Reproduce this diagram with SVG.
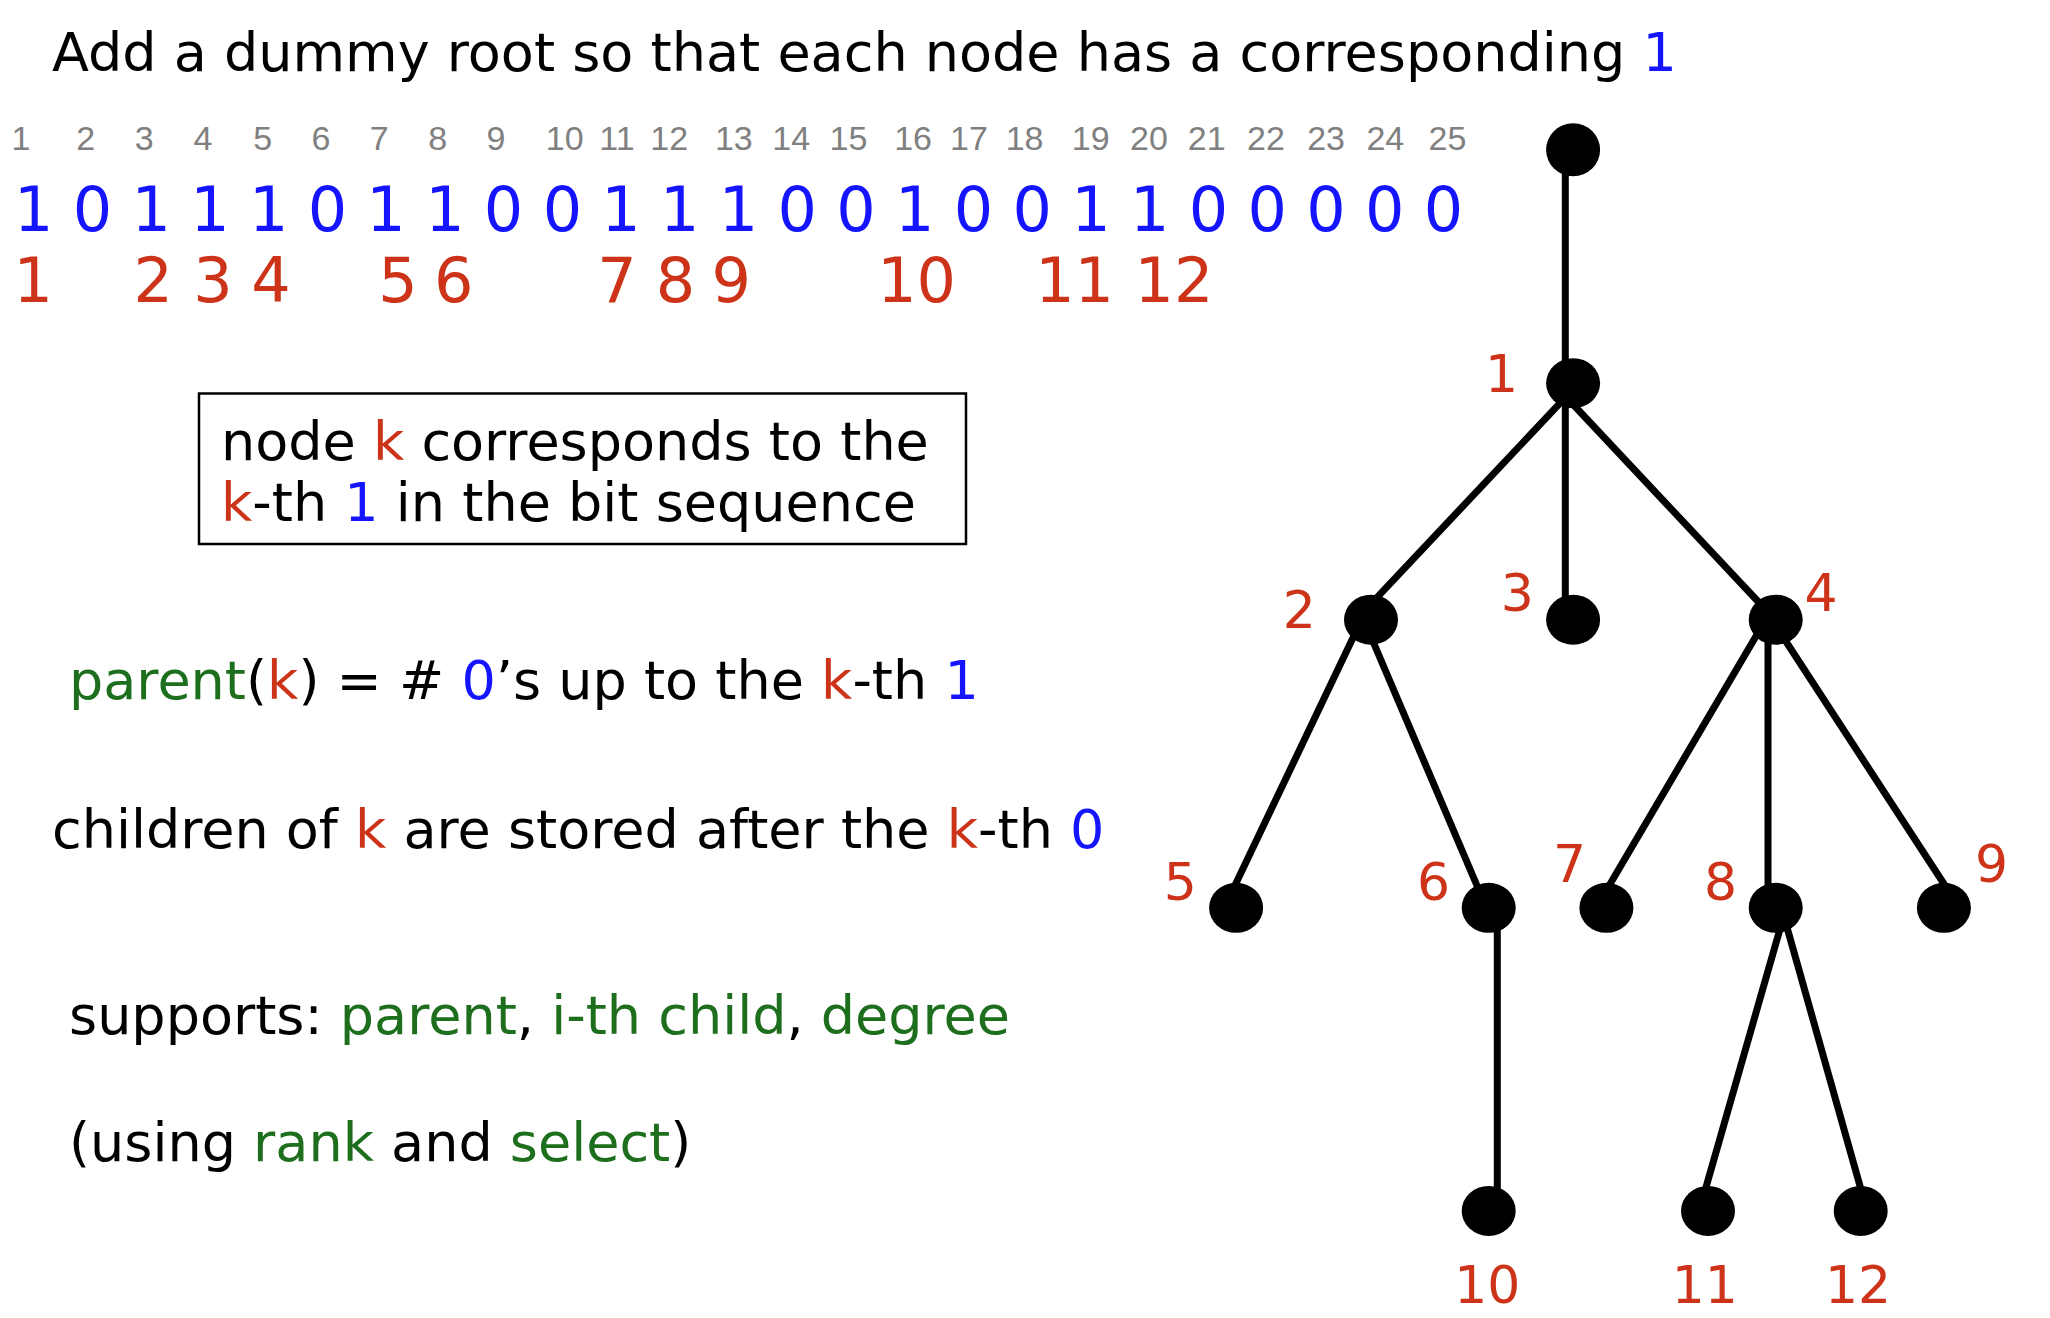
<svg xmlns="http://www.w3.org/2000/svg" width="2050" height="1318" viewBox="0 0 2050 1318">
<style>
  .txt { font-family: "DejaVu Sans", Verdana, sans-serif; font-size: 54px; fill: #000; }
  .idx { font-family: "Liberation Sans", Arial, sans-serif; font-size: 34px; fill: #808080; text-anchor: middle; }
  .bits { font-family: "DejaVu Sans", Verdana, sans-serif; font-size: 62px; fill: #1414ff; text-anchor: middle; }
  .ids { font-family: "DejaVu Sans", Verdana, sans-serif; font-size: 62px; fill: #cc3318; text-anchor: middle; }
  .lbl { font-family: "DejaVu Sans", Verdana, sans-serif; font-size: 52px; fill: #cc3318; text-anchor: middle; }
  .b { fill: #1414ff; }
  .r { fill: #cc3318; }
  .g { fill: #1d6e1d; }
  .node { fill: #000; }
  .edge { stroke: #000; stroke-width: 7; fill: none; }
</style>
<rect x="0" y="0" width="2050" height="1318" fill="#fff"/>

<text class="txt" x="52" y="71">Add a dummy root so that each node has a corresponding <tspan class="b">1</tspan></text>

<g id="indices">
<text class="idx" y="150" x="20.9">1</text>
<text class="idx" y="150" x="85.6">2</text>
<text class="idx" y="150" x="144.3">3</text>
<text class="idx" y="150" x="203">4</text>
<text class="idx" y="150" x="262.7">5</text>
<text class="idx" y="150" x="320.9">6</text>
<text class="idx" y="150" x="379.1">7</text>
<text class="idx" y="150" x="437.8">8</text>
<text class="idx" y="150" x="496">9</text>
<text class="idx" y="150" x="564.7">10</text>
<text class="idx" y="150" x="616.9">11</text>
<text class="idx" y="150" x="669.2">12</text>
<text class="idx" y="150" x="733.8">13</text>
<text class="idx" y="150" x="791.2">14</text>
<text class="idx" y="150" x="848.5">15</text>
<text class="idx" y="150" x="913.1">16</text>
<text class="idx" y="150" x="968.9">17</text>
<text class="idx" y="150" x="1024.6">18</text>
<text class="idx" y="150" x="1090.7">19</text>
<text class="idx" y="150" x="1149">20</text>
<text class="idx" y="150" x="1206.7">21</text>
<text class="idx" y="150" x="1265.9">22</text>
<text class="idx" y="150" x="1326.1">23</text>
<text class="idx" y="150" x="1385.3">24</text>
<text class="idx" y="150" x="1447.5">25</text>
</g>

<g id="bits">
<text class="bits" y="230.7" x="33.7 92.4 151.2 209.9 268.7 327.4 386.1 444.9 503.6 562.4 621.1 679.8 738.6 797.3 856.1 914.8 973.5 1032.3 1091 1149.8 1208.5 1267.2 1326 1384.7 1443.5">1011101100111001001100000</text>
</g>

<g id="ranks">
<text class="ids" y="301.7" x="33.3">1</text>
<text class="ids" y="301.7" x="153.2">2</text>
<text class="ids" y="301.7" x="213">3</text>
<text class="ids" y="301.7" x="271">4</text>
<text class="ids" y="301.7" x="398">5</text>
<text class="ids" y="301.7" x="453.7">6</text>
<text class="ids" y="301.7" x="617">7</text>
<text class="ids" y="301.7" x="675.6">8</text>
<text class="ids" y="301.7" x="731.3">9</text>
<text class="ids" y="301.7" x="916.6">10</text>
<text class="ids" y="301.7" x="1074.6">11</text>
<text class="ids" y="301.7" x="1174">12</text>
</g>

<g id="note-box">
<rect x="199" y="393.5" width="767" height="150.5" fill="none" stroke="#000" stroke-width="2.5"/>
<text class="txt" x="221" y="460">node <tspan class="r">k</tspan> corresponds to the</text>
<text class="txt" x="221" y="521"><tspan class="r">k</tspan>-th <tspan class="b">1</tspan> in the bit sequence</text>
</g>

<text class="txt" x="69" y="699"><tspan class="g">parent</tspan>(<tspan class="r">k</tspan>) = # <tspan class="b">0</tspan>’s up to the <tspan class="r">k</tspan>-th <tspan class="b">1</tspan></text>
<text class="txt" x="52" y="848">children of <tspan class="r">k</tspan> are stored after the <tspan class="r">k</tspan>-th <tspan class="b">0</tspan></text>
<text class="txt" x="69" y="1034">supports: <tspan class="g">parent</tspan>, <tspan class="g">i-th child</tspan>, <tspan class="g">degree</tspan></text>
<text class="txt" x="69" y="1161">(using <tspan class="g">rank</tspan> and <tspan class="g">select</tspan>)</text>

<g id="connectors">
<line class="edge" x1="1565.3" y1="150" x2="1565.3" y2="383"/>
<line class="edge" x1="1567.3" y1="395.4" x2="1369.8" y2="605.1"/>
<line class="edge" x1="1565.3" y1="383" x2="1565.3" y2="620"/>
<line class="edge" x1="1568" y1="399" x2="1766" y2="610"/>
<line class="edge" x1="1360" y1="623" x2="1230.4" y2="895"/>
<line class="edge" x1="1366" y1="625" x2="1481" y2="895"/>
<line class="edge" x1="1762.6" y1="625" x2="1603.6" y2="895"/>
<line class="edge" x1="1768" y1="620" x2="1768" y2="908"/>
<line class="edge" x1="1775.2" y1="625" x2="1951.2" y2="895"/>
<line class="edge" x1="1497.3" y1="908" x2="1497.3" y2="1211"/>
<line class="edge" x1="1784" y1="915" x2="1702.9" y2="1198"/>
<line class="edge" x1="1783.5" y1="915" x2="1863.4" y2="1198"/>
</g>

<g id="node-root"><ellipse class="node" cx="1573.1" cy="149.8" rx="27" ry="26.5"/></g>
<g id="node-1"><ellipse class="node" cx="1573.1" cy="383.2" rx="27" ry="25"/><text class="lbl" x="1501.6" y="391.6">1</text></g>
<g id="node-2"><ellipse class="node" cx="1371" cy="619.7" rx="27" ry="25"/><text class="lbl" x="1299.3" y="628.1">2</text></g>
<g id="node-3"><ellipse class="node" cx="1573.1" cy="619.7" rx="27" ry="25"/><text class="lbl" x="1517.4" y="610.9">3</text></g>
<g id="node-4"><ellipse class="node" cx="1775.7" cy="619.7" rx="27" ry="25"/><text class="lbl" x="1821" y="610.9">4</text></g>
<g id="node-5"><ellipse class="node" cx="1236.1" cy="907.8" rx="27" ry="25"/><text class="lbl" x="1180.4" y="899.7">5</text></g>
<g id="node-6"><ellipse class="node" cx="1488.7" cy="907.8" rx="27" ry="25"/><text class="lbl" x="1433.6" y="899.7">6</text></g>
<g id="node-7"><ellipse class="node" cx="1606.4" cy="907.8" rx="27" ry="25"/><text class="lbl" x="1569.6" y="882.2">7</text></g>
<g id="node-8"><ellipse class="node" cx="1775.7" cy="907.8" rx="27" ry="25"/><text class="lbl" x="1720.6" y="899.7">8</text></g>
<g id="node-9"><ellipse class="node" cx="1943.9" cy="907.8" rx="27" ry="25"/><text class="lbl" x="1991.6" y="882.2">9</text></g>
<g id="node-10"><ellipse class="node" cx="1488.7" cy="1210.9" rx="27" ry="25"/><text class="lbl" x="1487.3" y="1303.3">10</text></g>
<g id="node-11"><ellipse class="node" cx="1708" cy="1210.9" rx="27" ry="25"/><text class="lbl" x="1704.8" y="1303.3">11</text></g>
<g id="node-12"><ellipse class="node" cx="1860.7" cy="1210.9" rx="27" ry="25"/><text class="lbl" x="1858.1" y="1303.3">12</text></g>
</svg>
